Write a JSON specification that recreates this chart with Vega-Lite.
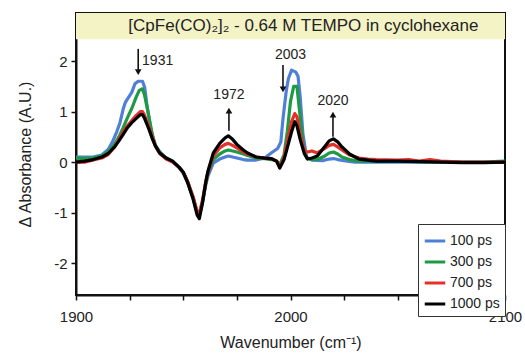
{
  "$schema": "https://vega.github.io/schema/vega-lite/v6.json",
  "width": 429,
  "height": 282,
  "autosize": {"type": "none"},
  "padding": {"left": 76, "top": 13, "right": 20, "bottom": 62},
  "background": "white",
  "config": {
    "font": "Liberation Sans",
    "view": {"stroke": "#111", "strokeWidth": 2},
    "axis": {"labelFont": "Liberation Sans", "titleFont": "Liberation Sans", "labelColor": "#222", "titleColor": "#222", "domainColor": "#111", "tickColor": "#111", "grid": false, "titleFontWeight": "normal"},
    "legend": {"strokeColor": "#333"}
  },
  "datasets": {
    "spec": [
      {"series":"100 ps","wn":1900,"a":0.1},{"series":"100 ps","wn":1904,"a":0.1},{"series":"100 ps","wn":1908,"a":0.1},{"series":"100 ps","wn":1912,"a":0.14},{"series":"100 ps","wn":1915,"a":0.25},{"series":"100 ps","wn":1917,"a":0.4},{"series":"100 ps","wn":1919,"a":0.6},{"series":"100 ps","wn":1920.5,"a":0.78},{"series":"100 ps","wn":1922,"a":1.05},{"series":"100 ps","wn":1923,"a":1.18},{"series":"100 ps","wn":1924.5,"a":1.28},{"series":"100 ps","wn":1926,"a":1.38},{"series":"100 ps","wn":1927.5,"a":1.55},{"series":"100 ps","wn":1929,"a":1.6},{"series":"100 ps","wn":1931,"a":1.6},{"series":"100 ps","wn":1932,"a":1.48},{"series":"100 ps","wn":1933,"a":1.15},{"series":"100 ps","wn":1934.5,"a":0.75},{"series":"100 ps","wn":1935.5,"a":0.55},{"series":"100 ps","wn":1937,"a":0.33},{"series":"100 ps","wn":1939,"a":0.2},{"series":"100 ps","wn":1942,"a":0.08},{"series":"100 ps","wn":1945,"a":0.02},{"series":"100 ps","wn":1948,"a":-0.1},{"series":"100 ps","wn":1950,"a":-0.22},{"series":"100 ps","wn":1952,"a":-0.4},{"series":"100 ps","wn":1954.5,"a":-0.7},{"series":"100 ps","wn":1956.5,"a":-1.02},{"series":"100 ps","wn":1957.5,"a":-1.05},{"series":"100 ps","wn":1959,"a":-0.8},{"series":"100 ps","wn":1960.5,"a":-0.45},{"series":"100 ps","wn":1961.5,"a":-0.28},{"series":"100 ps","wn":1964,"a":-0.02},{"series":"100 ps","wn":1967,"a":0.06},{"series":"100 ps","wn":1969.5,"a":0.1},{"series":"100 ps","wn":1971,"a":0.12},{"series":"100 ps","wn":1973,"a":0.1},{"series":"100 ps","wn":1975,"a":0.08},{"series":"100 ps","wn":1978,"a":0.05},{"series":"100 ps","wn":1980,"a":0.04},{"series":"100 ps","wn":1984,"a":0.04},{"series":"100 ps","wn":1988,"a":0.08},{"series":"100 ps","wn":1991,"a":0.18},{"series":"100 ps","wn":1994,"a":0.27},{"series":"100 ps","wn":1995.5,"a":0.4},{"series":"100 ps","wn":1996.5,"a":0.86},{"series":"100 ps","wn":1998,"a":1.4},{"series":"100 ps","wn":1999,"a":1.65},{"series":"100 ps","wn":2000.5,"a":1.82},{"series":"100 ps","wn":2002.5,"a":1.78},{"series":"100 ps","wn":2003.5,"a":1.7},{"series":"100 ps","wn":2004.5,"a":1.3},{"series":"100 ps","wn":2005.8,"a":0.55},{"series":"100 ps","wn":2007.5,"a":0.1},{"series":"100 ps","wn":2010,"a":0.04},{"series":"100 ps","wn":2015,"a":0.03},{"series":"100 ps","wn":2018,"a":0.06},{"series":"100 ps","wn":2020,"a":0.07},{"series":"100 ps","wn":2022,"a":0.05},{"series":"100 ps","wn":2025,"a":0.03},{"series":"100 ps","wn":2030,"a":0.0},{"series":"100 ps","wn":2040,"a":0.0},{"series":"100 ps","wn":2050,"a":0.0},{"series":"100 ps","wn":2060,"a":0.0},{"series":"100 ps","wn":2070,"a":0.0},{"series":"100 ps","wn":2080,"a":0.0},{"series":"100 ps","wn":2090,"a":0.0},{"series":"100 ps","wn":2100,"a":0.0},

      {"series":"300 ps","wn":1900,"a":0.08},{"series":"300 ps","wn":1904,"a":0.07},{"series":"300 ps","wn":1908,"a":0.08},{"series":"300 ps","wn":1912,"a":0.12},{"series":"300 ps","wn":1915,"a":0.2},{"series":"300 ps","wn":1918,"a":0.35},{"series":"300 ps","wn":1920,"a":0.5},{"series":"300 ps","wn":1922,"a":0.68},{"series":"300 ps","wn":1924,"a":0.88},{"series":"300 ps","wn":1926,"a":1.06},{"series":"300 ps","wn":1928,"a":1.28},{"series":"300 ps","wn":1929.5,"a":1.42},{"series":"300 ps","wn":1931,"a":1.45},{"series":"300 ps","wn":1932,"a":1.32},{"series":"300 ps","wn":1934,"a":0.9},{"series":"300 ps","wn":1935.5,"a":0.55},{"series":"300 ps","wn":1937,"a":0.33},{"series":"300 ps","wn":1939,"a":0.2},{"series":"300 ps","wn":1942,"a":0.08},{"series":"300 ps","wn":1945,"a":0.02},{"series":"300 ps","wn":1948,"a":-0.1},{"series":"300 ps","wn":1950,"a":-0.2},{"series":"300 ps","wn":1952,"a":-0.38},{"series":"300 ps","wn":1954.5,"a":-0.68},{"series":"300 ps","wn":1956.5,"a":-1.0},{"series":"300 ps","wn":1957.5,"a":-1.05},{"series":"300 ps","wn":1959,"a":-0.78},{"series":"300 ps","wn":1960.5,"a":-0.42},{"series":"300 ps","wn":1961.5,"a":-0.22},{"series":"300 ps","wn":1964,"a":0.05},{"series":"300 ps","wn":1967,"a":0.16},{"series":"300 ps","wn":1969.5,"a":0.22},{"series":"300 ps","wn":1971,"a":0.24},{"series":"300 ps","wn":1973,"a":0.22},{"series":"300 ps","wn":1975,"a":0.2},{"series":"300 ps","wn":1978,"a":0.16},{"series":"300 ps","wn":1980,"a":0.13},{"series":"300 ps","wn":1984,"a":0.08},{"series":"300 ps","wn":1988,"a":0.07},{"series":"300 ps","wn":1991,"a":0.05},{"series":"300 ps","wn":1993.5,"a":0.02},{"series":"300 ps","wn":1995,"a":-0.05},{"series":"300 ps","wn":1997,"a":0.15},{"series":"300 ps","wn":1998.5,"a":0.6},{"series":"300 ps","wn":2000,"a":1.2},{"series":"300 ps","wn":2001.5,"a":1.5},{"series":"300 ps","wn":2003,"a":1.5},{"series":"300 ps","wn":2004.5,"a":0.9},{"series":"300 ps","wn":2006,"a":0.3},{"series":"300 ps","wn":2007.5,"a":0.08},{"series":"300 ps","wn":2010,"a":0.05},{"series":"300 ps","wn":2013,"a":0.06},{"series":"300 ps","wn":2016,"a":0.12},{"series":"300 ps","wn":2018,"a":0.18},{"series":"300 ps","wn":2020,"a":0.2},{"series":"300 ps","wn":2022,"a":0.16},{"series":"300 ps","wn":2024,"a":0.1},{"series":"300 ps","wn":2027.5,"a":0.05},{"series":"300 ps","wn":2032,"a":0.02},{"series":"300 ps","wn":2040,"a":0.02},{"series":"300 ps","wn":2050,"a":0.02},{"series":"300 ps","wn":2060,"a":0.01},{"series":"300 ps","wn":2070,"a":0.01},{"series":"300 ps","wn":2080,"a":0.0},{"series":"300 ps","wn":2090,"a":0.0},{"series":"300 ps","wn":2100,"a":0.02},

      {"series":"700 ps","wn":1900,"a":0.0},{"series":"700 ps","wn":1904,"a":0.0},{"series":"700 ps","wn":1908,"a":0.04},{"series":"700 ps","wn":1912,"a":0.08},{"series":"700 ps","wn":1915,"a":0.15},{"series":"700 ps","wn":1918,"a":0.3},{"series":"700 ps","wn":1920,"a":0.45},{"series":"700 ps","wn":1922,"a":0.6},{"series":"700 ps","wn":1924,"a":0.72},{"series":"700 ps","wn":1926,"a":0.82},{"series":"700 ps","wn":1928,"a":0.92},{"series":"700 ps","wn":1930,"a":1.0},{"series":"700 ps","wn":1931,"a":1.0},{"series":"700 ps","wn":1932,"a":0.92},{"series":"700 ps","wn":1934,"a":0.7},{"series":"700 ps","wn":1935.5,"a":0.5},{"series":"700 ps","wn":1937,"a":0.32},{"series":"700 ps","wn":1939,"a":0.17},{"series":"700 ps","wn":1942,"a":0.06},{"series":"700 ps","wn":1945,"a":0.0},{"series":"700 ps","wn":1948,"a":-0.1},{"series":"700 ps","wn":1950,"a":-0.2},{"series":"700 ps","wn":1952,"a":-0.38},{"series":"700 ps","wn":1954.5,"a":-0.68},{"series":"700 ps","wn":1956.5,"a":-0.98},{"series":"700 ps","wn":1957.5,"a":-1.02},{"series":"700 ps","wn":1959,"a":-0.75},{"series":"700 ps","wn":1960.5,"a":-0.38},{"series":"700 ps","wn":1961.5,"a":-0.2},{"series":"700 ps","wn":1964,"a":0.12},{"series":"700 ps","wn":1967,"a":0.28},{"series":"700 ps","wn":1969.5,"a":0.35},{"series":"700 ps","wn":1971,"a":0.37},{"series":"700 ps","wn":1973,"a":0.33},{"series":"700 ps","wn":1975,"a":0.28},{"series":"700 ps","wn":1978,"a":0.2},{"series":"700 ps","wn":1980,"a":0.16},{"series":"700 ps","wn":1984,"a":0.1},{"series":"700 ps","wn":1988,"a":0.08},{"series":"700 ps","wn":1991,"a":0.07},{"series":"700 ps","wn":1993.5,"a":0.02},{"series":"700 ps","wn":1995,"a":-0.1},{"series":"700 ps","wn":1997,"a":0.1},{"series":"700 ps","wn":1998.5,"a":0.4},{"series":"700 ps","wn":2000.5,"a":0.8},{"series":"700 ps","wn":2002,"a":0.96},{"series":"700 ps","wn":2003,"a":0.9},{"series":"700 ps","wn":2004.5,"a":0.55},{"series":"700 ps","wn":2006.5,"a":0.22},{"series":"700 ps","wn":2008,"a":0.2},{"series":"700 ps","wn":2010,"a":0.22},{"series":"700 ps","wn":2012.5,"a":0.18},{"series":"700 ps","wn":2016,"a":0.27},{"series":"700 ps","wn":2018,"a":0.33},{"series":"700 ps","wn":2020,"a":0.35},{"series":"700 ps","wn":2022,"a":0.3},{"series":"700 ps","wn":2024,"a":0.24},{"series":"700 ps","wn":2027.5,"a":0.14},{"series":"700 ps","wn":2032,"a":0.08},{"series":"700 ps","wn":2036,"a":0.06},{"series":"700 ps","wn":2040,"a":0.05},{"series":"700 ps","wn":2050,"a":0.04},{"series":"700 ps","wn":2055,"a":0.05},{"series":"700 ps","wn":2060,"a":0.02},{"series":"700 ps","wn":2065,"a":0.05},{"series":"700 ps","wn":2070,"a":0.02},{"series":"700 ps","wn":2080,"a":0.0},{"series":"700 ps","wn":2090,"a":0.0},{"series":"700 ps","wn":2100,"a":0.0},

      {"series":"1000 ps","wn":1900,"a":0.0},{"series":"1000 ps","wn":1904,"a":0.02},{"series":"1000 ps","wn":1908,"a":0.05},{"series":"1000 ps","wn":1912,"a":0.1},{"series":"1000 ps","wn":1915,"a":0.17},{"series":"1000 ps","wn":1918,"a":0.3},{"series":"1000 ps","wn":1920,"a":0.42},{"series":"1000 ps","wn":1922,"a":0.55},{"series":"1000 ps","wn":1924,"a":0.68},{"series":"1000 ps","wn":1926,"a":0.78},{"series":"1000 ps","wn":1928,"a":0.86},{"series":"1000 ps","wn":1930,"a":0.94},{"series":"1000 ps","wn":1931,"a":0.94},{"series":"1000 ps","wn":1932,"a":0.86},{"series":"1000 ps","wn":1934,"a":0.65},{"series":"1000 ps","wn":1935.5,"a":0.47},{"series":"1000 ps","wn":1937,"a":0.32},{"series":"1000 ps","wn":1939,"a":0.18},{"series":"1000 ps","wn":1942,"a":0.08},{"series":"1000 ps","wn":1945,"a":0.02},{"series":"1000 ps","wn":1948,"a":-0.1},{"series":"1000 ps","wn":1950,"a":-0.2},{"series":"1000 ps","wn":1952,"a":-0.4},{"series":"1000 ps","wn":1954.5,"a":-0.72},{"series":"1000 ps","wn":1956.5,"a":-1.05},{"series":"1000 ps","wn":1957.5,"a":-1.12},{"series":"1000 ps","wn":1959,"a":-0.8},{"series":"1000 ps","wn":1960.5,"a":-0.4},{"series":"1000 ps","wn":1961.5,"a":-0.18},{"series":"1000 ps","wn":1964,"a":0.18},{"series":"1000 ps","wn":1967,"a":0.37},{"series":"1000 ps","wn":1969.5,"a":0.48},{"series":"1000 ps","wn":1971,"a":0.52},{"series":"1000 ps","wn":1973,"a":0.45},{"series":"1000 ps","wn":1975,"a":0.35},{"series":"1000 ps","wn":1978,"a":0.24},{"series":"1000 ps","wn":1980,"a":0.18},{"series":"1000 ps","wn":1984,"a":0.1},{"series":"1000 ps","wn":1988,"a":0.08},{"series":"1000 ps","wn":1991,"a":0.07},{"series":"1000 ps","wn":1993.5,"a":0.02},{"series":"1000 ps","wn":1995,"a":-0.12},{"series":"1000 ps","wn":1997,"a":0.05},{"series":"1000 ps","wn":1998.5,"a":0.28},{"series":"1000 ps","wn":2000.5,"a":0.6},{"series":"1000 ps","wn":2002,"a":0.8},{"series":"1000 ps","wn":2003,"a":0.72},{"series":"1000 ps","wn":2004.5,"a":0.45},{"series":"1000 ps","wn":2006.5,"a":0.16},{"series":"1000 ps","wn":2008,"a":0.06},{"series":"1000 ps","wn":2010,"a":0.08},{"series":"1000 ps","wn":2012.5,"a":0.12},{"series":"1000 ps","wn":2016,"a":0.31},{"series":"1000 ps","wn":2018,"a":0.42},{"series":"1000 ps","wn":2020,"a":0.46},{"series":"1000 ps","wn":2022,"a":0.4},{"series":"1000 ps","wn":2024,"a":0.3},{"series":"1000 ps","wn":2027.5,"a":0.16},{"series":"1000 ps","wn":2032,"a":0.06},{"series":"1000 ps","wn":2036,"a":0.04},{"series":"1000 ps","wn":2040,"a":0.02},{"series":"1000 ps","wn":2050,"a":0.02},{"series":"1000 ps","wn":2060,"a":0.01},{"series":"1000 ps","wn":2070,"a":0.0},{"series":"1000 ps","wn":2080,"a":-0.01},{"series":"1000 ps","wn":2090,"a":-0.01},{"series":"1000 ps","wn":2100,"a":0.0}
    ],
    "annot": [
      {"label":"1931","x":1929,"tail":2.24,"head":1.8,"tip":1.78,"dir":"down","tx":1930.8,"ty":2.0,"anchor":"left"},
      {"label":"1972","x":1971.3,"tail":0.62,"head":1.0,"tip":1.02,"dir":"up","tx":1971.3,"ty":1.33,"anchor":"center"},
      {"label":"2003","x":1996.5,"tail":1.92,"head":1.46,"tip":1.44,"dir":"down","tx":2000,"ty":2.12,"anchor":"center"},
      {"label":"2020","x":2019.8,"tail":0.5,"head":0.92,"tip":0.94,"dir":"up","tx":2019.8,"ty":1.2,"anchor":"center"}
    ],
    "one": [{"title": "[CpFe(CO)\u2082]\u2082 - 0.64 M TEMPO in cyclohexane"}]
  },
  "layer": [
    {
      "data": {"name": "one"},
      "mark": {"type": "rect", "fill": "#f4f3c6"},
      "encoding": {
        "x": {"datum": 1900, "type": "quantitative", "scale": {"domain": [1900, 2100], "nice": false, "zero": false},
          "axis": {"title": "Wavenumber (cm\u207B\u00B9)", "values": [1900,1925,1950,1975,2000,2025,2050,2075,2100], "labelExpr": "datum.value % 100 == 0 ? '' + datum.value : ''", "labelFontSize": 15, "titleFontSize": 16, "tickSize": 5, "tickWidth": 1.5, "domainWidth": 2, "labelPadding": 9, "titlePadding": 10, "labelFlush": false}},
        "x2": {"datum": 2100},
        "y": {"datum": 2.43, "type": "quantitative", "scale": {"domain": [-2.63, 2.95], "nice": false, "zero": false},
          "axis": {"title": "\u0394 Absorbance (A.U.)", "values": [-2,-1,0,1,2], "labelExpr": "datum.value < 0 ? '-' + abs(datum.value) : '' + datum.value", "labelFontSize": 15, "titleFontSize": 16, "tickSize": 5, "tickWidth": 1.5, "domainWidth": 2, "labelPadding": 4, "titlePadding": 20}},
        "y2": {"datum": 2.95}
      }
    },
    {
      "data": {"name": "one"},
      "mark": {"type": "text", "fontSize": 17, "color": "#222", "align": "center", "baseline": "middle"},
      "encoding": {"x": {"datum": 2006, "type": "quantitative"}, "y": {"datum": 2.69, "type": "quantitative"}, "text": {"field": "title"}}
    },
    {
      "data": {"name": "spec"},
      "transform": [{"filter": "datum.series == '100 ps'"}],
      "mark": {"type": "line", "strokeWidth": 3.2, "strokeJoin": "round"},
      "encoding": {"x": {"field": "wn", "type": "quantitative"}, "y": {"field": "a", "type": "quantitative"},
        "color": {"field": "series", "type": "nominal", "scale": {"domain": ["100 ps","300 ps","700 ps","1000 ps"], "range": ["#4f7fd6","#1f9a44","#e5302a","#000000"]},
        "legend": {"title": null, "orient": "none", "legendX": 342, "legendY": 211, "symbolType": "stroke", "symbolSize": 420, "symbolStrokeWidth": 3, "labelFontSize": 14, "labelColor": "#222", "rowPadding": 2, "padding": 5, "strokeColor": "#333", "fillColor": "white", "labelOffset": 3, "labelExpr": "datum.label == '1000 ps' ? datum.label : '\u2007' + datum.label"}}}
    },
    {
      "data": {"name": "spec"},
      "transform": [{"filter": "datum.series == '300 ps'"}],
      "mark": {"type": "line", "strokeWidth": 3.2, "strokeJoin": "round"},
      "encoding": {"x": {"field": "wn", "type": "quantitative"}, "y": {"field": "a", "type": "quantitative"}, "color": {"field": "series", "type": "nominal"}}
    },
    {
      "data": {"name": "spec"},
      "transform": [{"filter": "datum.series == '700 ps'"}],
      "mark": {"type": "line", "strokeWidth": 3.2, "strokeJoin": "round"},
      "encoding": {"x": {"field": "wn", "type": "quantitative"}, "y": {"field": "a", "type": "quantitative"}, "color": {"field": "series", "type": "nominal"}}
    },
    {
      "data": {"name": "spec"},
      "transform": [{"filter": "datum.series == '1000 ps'"}],
      "mark": {"type": "line", "strokeWidth": 3.2, "strokeJoin": "round"},
      "encoding": {"x": {"field": "wn", "type": "quantitative"}, "y": {"field": "a", "type": "quantitative"}, "color": {"field": "series", "type": "nominal"}}
    },
    {
      "data": {"name": "annot"},
      "mark": {"type": "rule", "color": "#111", "strokeWidth": 1.6},
      "encoding": {"x": {"field": "x", "type": "quantitative"}, "y": {"field": "tail", "type": "quantitative"}, "y2": {"field": "head"}}
    },
    {
      "data": {"name": "annot"},
      "transform": [{"filter": "datum.dir == 'down'"}],
      "mark": {"type": "point", "shape": "triangle-down", "filled": true, "color": "#111", "size": 45, "opacity": 1},
      "encoding": {"x": {"field": "x", "type": "quantitative"}, "y": {"field": "tip", "type": "quantitative"}}
    },
    {
      "data": {"name": "annot"},
      "transform": [{"filter": "datum.dir == 'up'"}],
      "mark": {"type": "point", "shape": "triangle-up", "filled": true, "color": "#111", "size": 45, "opacity": 1},
      "encoding": {"x": {"field": "x", "type": "quantitative"}, "y": {"field": "tip", "type": "quantitative"}}
    },
    {
      "data": {"name": "annot"},
      "transform": [{"filter": "datum.anchor == 'left'"}],
      "mark": {"type": "text", "align": "left", "baseline": "middle", "fontSize": 14, "color": "#222"},
      "encoding": {"x": {"field": "tx", "type": "quantitative"}, "y": {"field": "ty", "type": "quantitative"}, "text": {"field": "label"}}
    },
    {
      "data": {"name": "annot"},
      "transform": [{"filter": "datum.anchor == 'center'"}],
      "mark": {"type": "text", "align": "center", "baseline": "middle", "fontSize": 14, "color": "#222"},
      "encoding": {"x": {"field": "tx", "type": "quantitative"}, "y": {"field": "ty", "type": "quantitative"}, "text": {"field": "label"}}
    }
  ]
}
